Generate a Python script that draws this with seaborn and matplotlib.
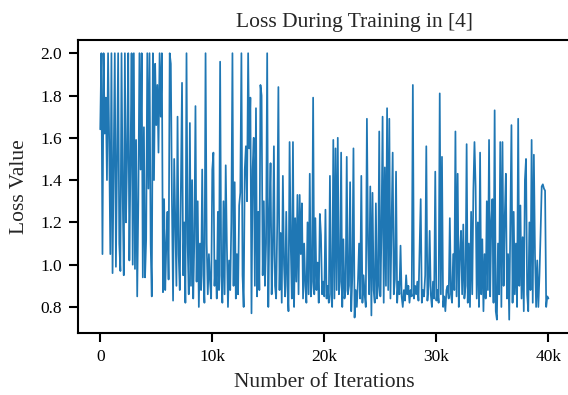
import numpy as np
import pandas as pd
import matplotlib
matplotlib.use("Agg")
import matplotlib.pyplot as plt
from matplotlib.ticker import FuncFormatter
import seaborn as sns

# loss, one value per 100 iterations (rows of 1k)
loss_values = [
    1.64, 2.00, 1.05, 2.00, 1.62, 1.79, 1.40, 2.00, 1.58, 1.05,  # 0k
    2.00, 0.96, 1.48, 2.00, 0.99, 1.52, 2.00, 1.10, 0.97, 2.00,  # 1k
    1.35, 0.95, 2.00, 1.20, 1.52, 2.00, 1.02, 1.48, 2.00, 1.00,  # 2k
    2.00, 0.98, 1.59, 0.85, 1.30, 2.00, 1.45, 2.00, 0.94, 1.65,  # 3k
    0.94, 1.12, 2.00, 1.36, 2.00, 1.10, 0.85, 2.00, 1.40, 1.95,  # 4k
    1.66, 1.85, 1.53, 2.00, 1.70, 2.00, 0.87, 1.31, 0.88, 1.10,  # 5k
    1.25, 0.93, 2.00, 1.95, 1.30, 0.83, 1.50, 1.20, 0.90, 1.70,  # 6k
    1.05, 0.88, 1.35, 1.86, 0.95, 1.20, 0.82, 2.00, 1.10, 0.86,  # 7k
    1.67, 0.90, 1.40, 0.84, 1.12, 1.75, 0.92, 1.30, 0.80, 1.10,  # 8k
    0.88, 1.45, 0.95, 0.82, 2.00, 1.10, 0.86, 1.05, 0.92, 0.84,  # 9k
    1.45, 1.53, 0.90, 1.02, 0.84, 1.25, 0.88, 1.96, 0.95, 0.82,  # 10k
    1.30, 0.86, 1.47, 1.10, 0.80, 1.02, 0.88, 1.20, 2.00, 0.90,  # 11k
    1.39, 0.84, 1.05, 0.86, 1.28, 1.34, 2.00, 0.95, 0.80, 1.45,  # 12k
    1.56, 1.30, 2.00, 1.55, 1.79, 0.77, 1.45, 1.60, 0.90, 1.74,  # 13k
    0.85, 1.25, 0.88, 1.85, 1.80, 0.95, 1.30, 0.90, 1.10, 2.00,  # 14k
    0.80, 1.22, 1.48, 0.86, 1.05, 1.56, 0.90, 0.84, 1.20, 1.84,  # 15k
    0.88, 1.15, 0.82, 1.42, 1.00, 0.85, 1.25, 0.90, 0.78, 1.58,  # 16k
    1.10, 0.84, 1.58, 0.80, 1.22, 0.92, 1.33, 0.86, 1.33, 1.05,  # 17k
    1.29, 0.84, 1.10, 0.90, 0.82, 1.20, 0.86, 1.43, 0.85, 0.92,  # 18k
    1.79, 0.86, 1.22, 0.88, 1.01, 0.82, 1.24, 1.14, 0.86, 0.92,  # 19k
    0.85, 1.26, 0.84, 0.90, 0.82, 1.42, 0.86, 0.80, 1.59, 0.84,  # 20k
    1.55, 0.88, 1.60, 0.86, 0.92, 1.53, 0.80, 1.12, 0.84, 0.88,  # 21k
    1.51, 0.86, 0.90, 1.39, 0.78, 0.95, 1.55, 0.75, 0.88, 0.80,  # 22k
    0.92, 1.10, 0.84, 1.42, 0.82, 0.95, 0.86, 0.80, 1.69, 1.10,  # 23k
    0.86, 1.37, 0.76, 1.34, 0.88, 0.82, 1.29, 0.84, 0.90, 1.63,  # 24k
    0.85, 1.15, 1.70, 0.82, 1.46, 0.90, 1.74, 0.88, 1.69, 0.84,  # 25k
    1.20, 1.53, 0.86, 0.93, 1.44, 0.82, 0.92, 0.86, 1.09, 0.85,  # 26k
    0.80, 0.88, 0.83, 0.95, 0.86, 0.90, 0.82, 0.88, 0.85, 1.85,  # 27k
    0.84, 0.90, 0.86, 0.92, 0.83, 1.07, 1.31, 0.82, 0.88, 0.85,  # 28k
    0.95, 1.56, 0.83, 0.90, 1.16, 0.86, 0.80, 0.92, 0.84, 1.44,  # 29k
    0.83, 0.88, 0.82, 1.81, 0.86, 1.51, 0.80, 0.85, 0.78, 0.88,  # 30k
    0.90, 0.84, 1.22, 0.86, 0.82, 1.05, 0.88, 1.63, 0.85, 1.43,  # 31k
    0.80, 1.05, 1.16, 0.86, 1.19, 0.84, 0.90, 1.57, 0.82, 1.10,  # 32k
    0.80, 1.25, 0.86, 1.35, 1.58, 1.37, 0.84, 1.20, 0.80, 1.53,  # 33k
    0.86, 1.12, 0.78, 1.05, 0.84, 1.30, 0.88, 1.59, 0.85, 1.20,  # 34k
    1.31, 0.82, 1.73, 0.78, 0.74, 1.10, 0.86, 1.58, 0.80, 1.58,  # 35k
    0.90, 1.22, 1.43, 0.84, 1.05, 0.74, 1.20, 1.66, 0.82, 1.25,  # 36k
    0.86, 1.10, 0.80, 1.69, 0.90, 1.28, 0.84, 1.13, 0.78, 1.40,  # 37k
    1.50, 0.86, 0.78, 1.20, 0.88, 1.59, 0.82, 1.52, 1.05, 0.80,  # 38k
    1.02, 0.80, 0.95, 1.15, 1.37, 1.38, 1.36, 1.35, 0.80, 0.85,  # 39k
    0.84,                                                        # 40k
]
iterations = np.arange(0, 40001, 100)

x_ticks = [0, 10000, 20000, 30000, 40000]
y_ticks = [0.8, 1.0, 1.2, 1.4, 1.6, 1.8, 2.0]

df = pd.DataFrame({"iteration": iterations, "loss": loss_values})

sns.set_theme(style="ticks")
plt.rcParams['font.family'] = ['Liberation Serif', 'DejaVu Serif']

fig = plt.figure(figsize=(5.68, 3.95), dpi=100)
ax = fig.add_axes([0.137, 0.157, 0.868, 0.742])
sns.lineplot(data=df, x="iteration", y="loss", color="#1f77b4", linewidth=1.25, ax=ax)

ax.set_xticks(x_ticks)
ax.xaxis.set_major_formatter(FuncFormatter(lambda v, p: "0" if v == 0 else "%dk" % (v / 1000)))
ax.set_yticks(y_ticks)
ax.set_yticklabels(["%.1f" % v for v in y_ticks])
ax.tick_params(direction="out", length=6.5, width=1.5, labelsize=12.5, colors="black", pad=5)
for side in ["left", "bottom", "top"]:
    ax.spines[side].set_linewidth(1.5)
    ax.spines[side].set_color("black")
ax.spines["right"].set_visible(False)

ax.set_title("Loss During Training in [4]", fontsize=15.5, pad=9, x=0.562)
ax.set_xlabel("Number of Iterations", fontsize=15.5, labelpad=6)
ax.set_ylabel("Loss Value", fontsize=15.5, labelpad=8)

fig.savefig("out.png", dpi=100)
